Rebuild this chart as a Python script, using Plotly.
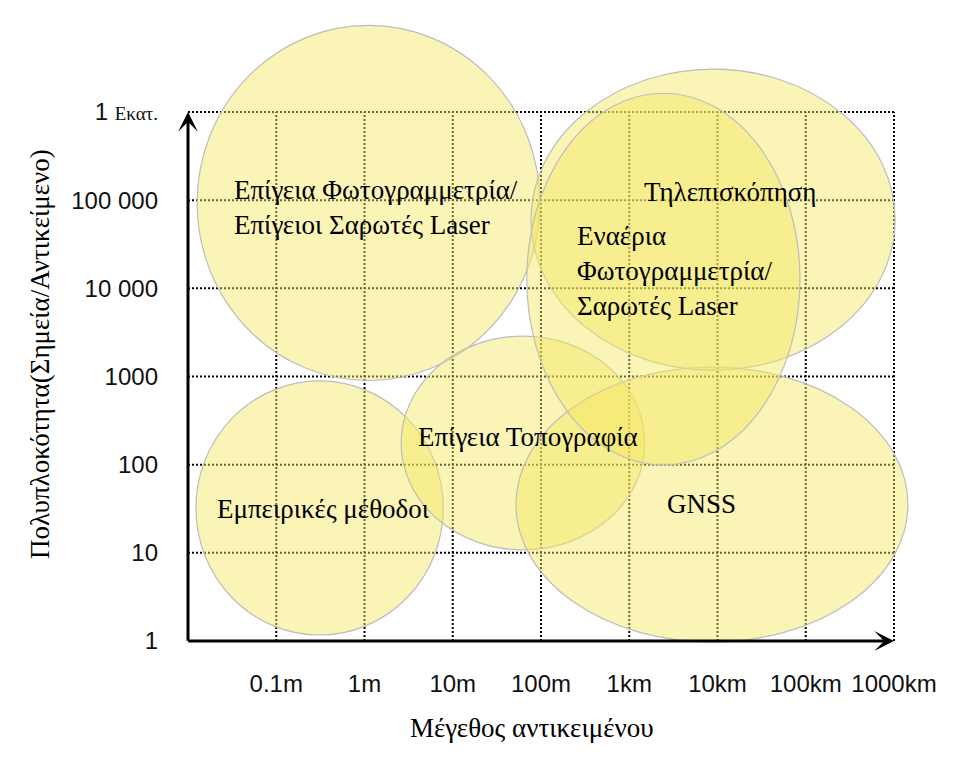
import numpy as np
import plotly.graph_objects as go

# ---------------- data ----------------
size_ticks_m = [0.1, 1, 10, 100, 1000, 1e4, 1e5, 1e6]
size_tick_labels = ["0.1m", "1m", "10m", "100m", "1km", "10km", "100km", "1000km"]
complexity_ticks = [1, 10, 100, 1000, 1e4, 1e5, 1e6]
complexity_tick_labels = ["1", "10", "100", "1000", "10 000", "100 000",
                          '1 <span style="font-family:Liberation Serif;font-size:19px">Εκατ.</span>']

axis_origin_size_m = 0.01
axis_origin_points = 1
axis_end_size_m = 1e6
axis_end_points = 1e6

methods = [
    "Επίγεια Φωτογραμμετρία/<br>Επίγειοι Σαρωτές Laser",
    "Εμπειρικές μέθοδοι",
    "Επίγεια Τοπογραφία",
    "GNSS",
    "Τηλεπισκόπηση",
    "Εναέρια<br>Φωτογραμμετρία/<br>Σαρωτές Laser",
]
size_min_m = [0.0127, 0.0123, 2.6, 52, 77, 69]
size_max_m = [97, 7.8, 1500, 1.44e6, 1.03e6, 86000]
points_min = [900, 1.17, 10.8, 0.975, 1180, 99]
points_max = [9.6e6, 890, 2870, 1280, 3.06e6, 1.63e6]
label_size_m = [0.0316, 0.339, 71, 6670, 13900, 243]
label_points = [83600, 31.4, 206, 35.8, 123700, 15700]
label_align = ["left", "center", "center", "center", "center", "left"]

# ---------------- figure ----------------
W, H = 972, 760
PAGE = 8  # body margin of the html page
lx = np.log10
x0a, x1a = lx(axis_origin_size_m), lx(axis_end_size_m)
y0a, y1a = lx(axis_origin_points), lx(axis_end_points)

fig = go.Figure()

# dotted grid
gx, gy = [], []
for v in lx(size_ticks_m):
    gx += [v, v, None]
    gy += [y0a, y1a, None]
for v in lx(complexity_ticks[1:]):
    gx += [x0a, x1a, None]
    gy += [v, v, None]
fig.add_trace(go.Scatter(x=gx, y=gy, mode="lines", hoverinfo="skip", showlegend=False,
                         line=dict(color="black", width=2, dash="2px,2px")))

# ellipses
shapes = []
for i in range(len(methods)):
    shapes.append(dict(type="circle", xref="x", yref="y",
                       x0=lx(size_min_m[i]), x1=lx(size_max_m[i]),
                       y0=lx(points_min[i]), y1=lx(points_max[i]),
                       fillcolor="rgba(244,230,95,0.45)",
                       line=dict(color="#BDBDBD", width=1.2), layer="above"))

FS = 27
annotations = []
for i, m in enumerate(methods):
    annotations.append(dict(x=lx(label_size_m[i]), y=lx(label_points[i]), xref="x", yref="y",
                            text=m, showarrow=False, align=label_align[i],
                            xanchor="left" if label_align[i] == "left" else "center",
                            yanchor="middle",
                            font=dict(family="Liberation Serif", size=FS, color="black")))

# axis arrows
annotations.append(dict(x=x1a, y=y0a, ax=x0a - 0.015, ay=y0a, xref="x", yref="y", axref="x", ayref="y",
                        text="", showarrow=True, arrowhead=3, arrowsize=1.1, arrowwidth=3,
                        arrowcolor="black", standoff=0))
annotations.append(dict(x=x0a, y=y1a, ax=x0a, ay=y0a - 0.015, xref="x", yref="y", axref="x", ayref="y",
                        text="", showarrow=True, arrowhead=3, arrowsize=1.1, arrowwidth=3,
                        arrowcolor="black", standoff=0))

# axis titles
annotations.append(dict(x=(40 - PAGE) / W, y=(H - (354 - PAGE)) / H, xref="paper", yref="paper",
                        textangle=-90, xanchor="center", yanchor="middle",
                        text="Πολυπλοκότητα(Σημεία/Αντικείμενο)", showarrow=False,
                        font=dict(family="Liberation Serif", size=FS, color="black")))
annotations.append(dict(x=(532 - PAGE) / W, y=(H - (728 - PAGE)) / H, xref="paper", yref="paper",
                        xanchor="center", yanchor="middle",
                        text="Μέγεθος αντικειμένου", showarrow=False,
                        font=dict(family="Liberation Serif", size=FS, color="black")))

# pixel mapping: origin at (188, 641) on screen, 88.25 px per decade
px_dec_x = 88.25
px_dec_y = 88.17
ox, oy = 188 - PAGE, 641 - PAGE
xr = [x0a - ox / px_dec_x, x0a + (W - ox) / px_dec_x]
yr = [y0a - (H - oy) / px_dec_y, y0a + oy / px_dec_y]

fig.update_layout(
    width=W, height=H, margin=dict(l=0, r=0, t=0, b=0),
    paper_bgcolor="white", plot_bgcolor="white",
    shapes=shapes, annotations=annotations, showlegend=False,
    xaxis=dict(range=xr, showgrid=False, zeroline=False, showline=False,
               tickvals=list(lx(size_ticks_m)), ticktext=size_tick_labels,
               anchor="free", position=(H - oy) / H, side="bottom", ticks="",
               ticklabelstandoff=26, tickangle=0,
               tickfont=dict(family="Liberation Sans", size=24, color="#111")),
    yaxis=dict(range=yr, showgrid=False, zeroline=False, showline=False,
               tickvals=list(lx(complexity_ticks)), ticktext=complexity_tick_labels,
               anchor="free", position=ox / W, side="left", ticks="",
               ticklabelstandoff=30,
               tickfont=dict(family="Liberation Sans", size=24, color="#111")),
)

fig.write_html("out.html")
